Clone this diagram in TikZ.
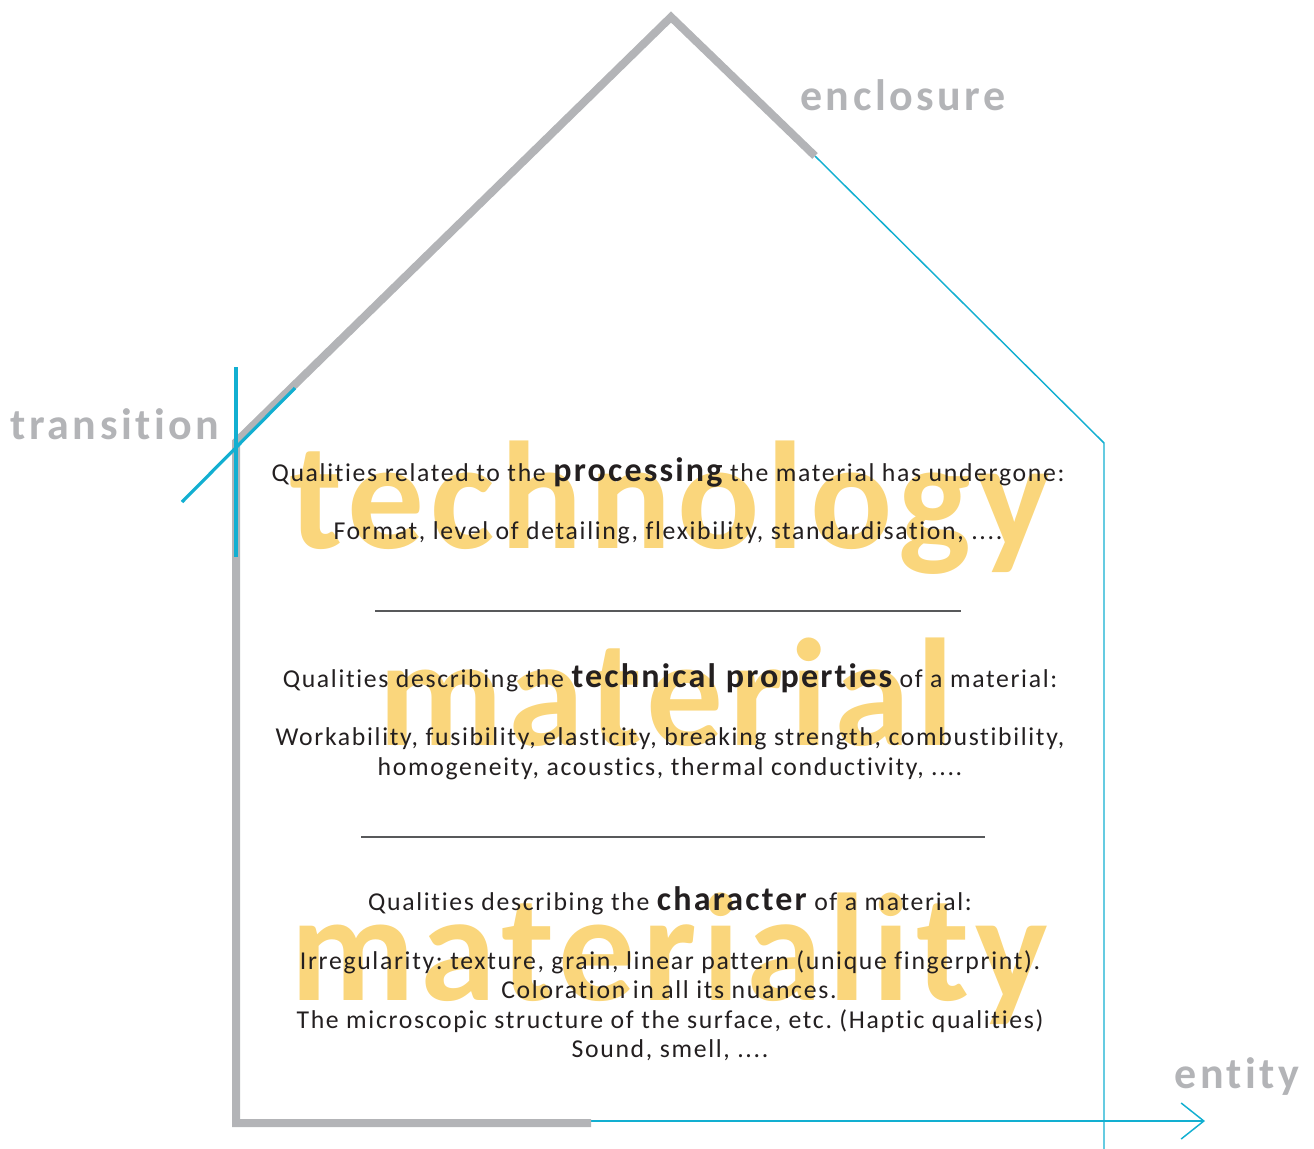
\documentclass[tikz,border=0pt]{standalone}
\usepackage{fontspec}
\setmainfont{Carlito}
\newfontfamily\bodyf[LetterSpace=6.5,Ligatures={NoCommon}]{Carlito}
\newfontfamily\bigf[LetterSpace=4,Ligatures={NoCommon}]{Carlito}
\newfontfamily\labf[LetterSpace=8,Ligatures={NoCommon}]{Carlito}
\usetikzlibrary{arrows.meta}
\definecolor{ylw}{HTML}{FAD67C}
\definecolor{ink}{HTML}{231F20}
\definecolor{gry}{HTML}{B3B4B7}
\definecolor{blu}{HTML}{12AFD1}
\definecolor{sep}{HTML}{58595B}
\newcommand\bw[1]{{\fontsize{25.5pt}{25.5pt}\selectfont\bfseries #1}}
\frenchspacing
\begin{document}
\begin{tikzpicture}[x=0.75pt,y=-0.75pt,
  bigword/.style={text=ylw, font=\bigf\bfseries\fontsize{115pt}{115pt}\selectfont, anchor=base, inner sep=0pt},
  body/.style={text=ink, font=\bodyf\frenchspacing\fontsize{19.3pt}{23pt}\selectfont, anchor=base, inner sep=0pt},
  lbl/.style={text=gry, font=\labf\bfseries\fontsize{33pt}{33pt}\selectfont, anchor=base, inner sep=0pt},
  wall/.style={draw=gry, line width=6pt},
  thin/.style={draw=blu, line width=1.1pt},
  cross/.style={draw=blu, line width=2.4pt},
  rule/.style={draw=sep, line width=0.8pt}]
\useasboundingbox (0,0) rectangle (1314,1149);
% big background words
\node[bigword] (tech) at (670,548) {technology};
\node[bigword] (mat) at (666,745) {material};
\node[bigword] (matl) at (669,1000) {materiality};
% house outline
\coordinate (roofR) at (815,156);
\coordinate (apex) at (671,17);
\coordinate (eaveL) at (236,442);
\coordinate (baseL) at (236,1123);
\coordinate (baseM) at (591,1123);
\coordinate (eaveR) at (1104,443);
\coordinate (wallR) at (1104,1149);
\coordinate (tip) at (1205,1121);
\coordinate (lineS) at (591,1121);
\draw[thin] (roofR) -- (eaveR) -- (wallR);
\draw[thin, -{Straight Barb[length=17pt, width=27pt, line width=1.1pt]}] (lineS) -- (tip);
\draw[wall, line join=miter, line cap=butt] (roofR) -- (apex) -- (eaveL) -- (baseL) -- (baseM);
% transition cross
\coordinate (cvT) at (236,367);
\coordinate (cvB) at (236,557);
\coordinate (cdA) at (182,502);
\coordinate (cdB) at (295,388);
\draw[cross] (cvT) -- (cvB);
\draw[cross] (cdA) -- (cdB);
% labels
\node[lbl] (encl) at (903,110) {enclosure};
\node[lbl] (trans) at (115,439) {transition};
\node[lbl] (ent) at (1237,1088) {entity};
% separators
\coordinate (s1a) at (375,611);
\coordinate (s1b) at (961,611);
\coordinate (s2a) at (361,837);
\coordinate (s2b) at (985,837);
\draw[rule] (s1a) -- (s1b);
\draw[rule] (s2a) -- (s2b);
% body text
\node[body] (t1) at (668,481) {Qualities related to the \bw{processing} the material has undergone:};
\node[body] (t2) at (668,539) {Format, level of detailing, flexibility, standardisation, ....};
\node[body] (t3) at (670,687) {Qualities describing the \bw{technical properties} of a material:};
\node[body] (t4) at (670,745) {Workability, fusibility, elasticity, breaking strength, combustibility,};
\node[body] (t5) at (670,775) {homogeneity, acoustics, thermal conductivity, ....};
\node[body] (t6) at (670,910) {Qualities describing the \bw{character} of a material:};
\node[body] (t7) at (670,969) {Irregularity: texture, grain, linear pattern (unique fingerprint).};
\node[body] (t8) at (669,998) {Coloration in all its nuances.};
\node[body] (t9) at (670,1028) {The microscopic structure of the surface, etc. (Haptic qualities)};
\node[body] (t10) at (670,1057) {Sound, smell, ....};
\end{tikzpicture}
\end{document}
